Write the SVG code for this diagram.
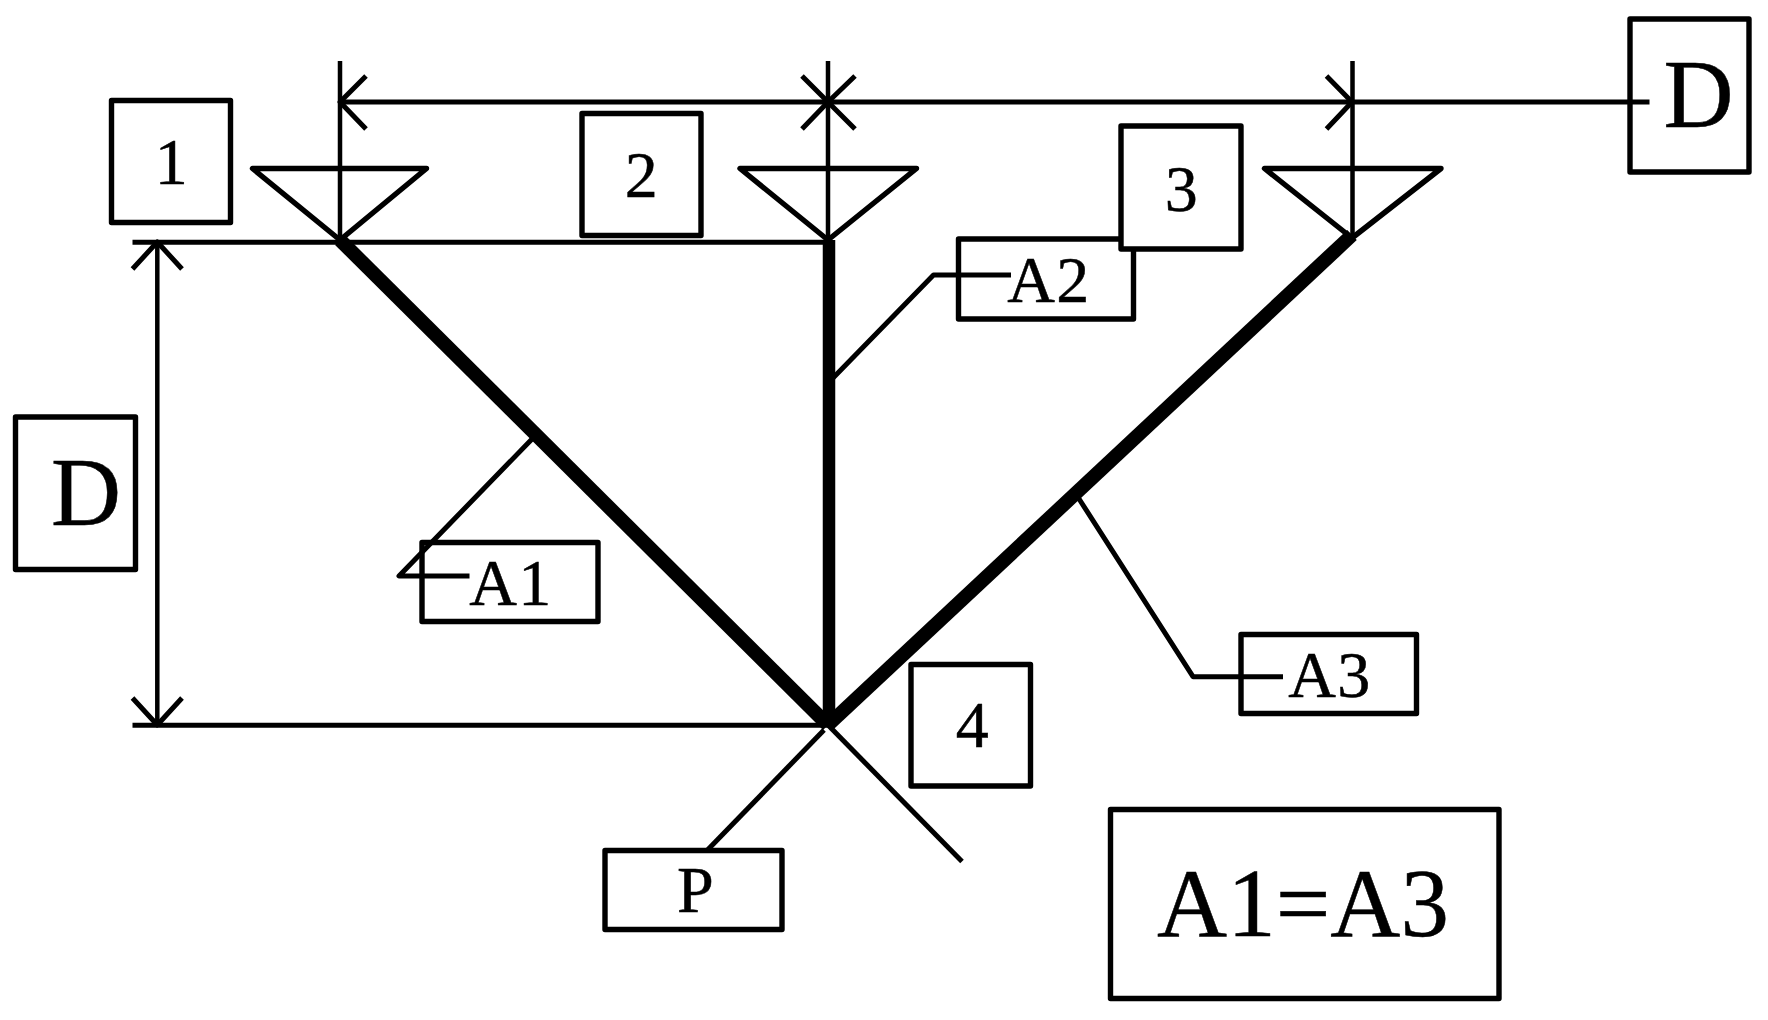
<svg xmlns="http://www.w3.org/2000/svg" width="1768" height="1020" viewBox="0 0 1768 1020">
<style>
.b{fill:#fff;stroke:#000;stroke-width:5.400;stroke-linejoin:round}
.t{font-family:"Liberation Serif","Times New Roman",serif;fill:#000;stroke:#000;stroke-width:.5;text-anchor:middle}
.s{font-size:66px;letter-spacing:1.500px}
.l{font-size:97px}
.c{fill:none;stroke:#000;stroke-width:5;stroke-linejoin:round;stroke-linecap:butt}
.h{fill:none;stroke:#000;stroke-width:14;stroke-linecap:butt}
</style>
<rect width="1768" height="1020" fill="#fff"/>
<g id="node-a1"><rect class="b" x="422" y="542.500" width="176" height="79"/><text class="t s" x="511" y="605">A1</text></g>
<g id="node-a2"><rect class="b" x="958.500" y="239" width="175" height="80"/><text class="t s" x="1049" y="301.500">A2</text></g>
<g id="node-a3"><rect class="b" x="1241" y="634.500" width="175.500" height="79"/><text class="t s" x="1330" y="696.500">A3</text></g>
<g id="node-p"><rect class="b" x="605" y="850.500" width="177" height="79"/><text class="t s" x="696" y="911.500">P</text></g>
<g id="node-1"><rect class="b" x="111.500" y="100.500" width="119" height="122"/><text class="t s" x="172" y="184">1</text></g>
<g id="node-2"><rect class="b" x="582" y="113.500" width="119" height="122"/><text class="t s" x="642" y="196.500">2</text></g>
<g id="node-3"><rect class="b" x="1121" y="126" width="120" height="123"/><text class="t s" x="1182" y="210.500">3</text></g>
<g id="node-4"><rect class="b" x="911" y="664.500" width="119.500" height="121.500"/><text class="t s" x="973" y="747">4</text></g>
<g id="node-d-left"><rect class="b" x="15.500" y="417" width="120" height="152.500"/><text class="t l" x="86" y="525">D</text></g>
<g id="node-d-top"><rect class="b" x="1630" y="19" width="119" height="153"/><text class="t l" x="1698.500" y="127">D</text></g>
<g id="node-equation"><rect class="b" x="1110.500" y="809.500" width="388.500" height="189"/><text class="t l" x="1303" y="936">A1=A3</text></g>
<g id="node-antenna-1"><polygon class="b" style="fill:none" points="252.500,168.500 426.500,168.500 340,240"/></g>
<g id="node-antenna-2"><polygon class="b" style="fill:none" points="740,168.500 916.500,168.500 828,240"/></g>
<g id="node-antenna-3"><polygon class="b" style="fill:none" points="1264.500,168.500 1441,168.500 1352,238"/></g>
<g id="connectors">
<path class="h" d="M340 240L828 725"/>
<path class="h" style="stroke-width:12.500" d="M829 240V725"/>
<path class="h" d="M1352 235L828 725"/>
<path class="c" style="stroke-width:4.500" d="M340 61V240M828 61V240M1352.500 61V238"/>
<path class="c" d="M340 102H1649.500"/>
<path class="c" d="M366 76L340 102L366 129M802 76L828 102L855 76M802 129L828 102L855 129M1326.500 76L1352 102L1326.500 129"/>
<path class="c" d="M132.500 242.300H828M132.500 725.300H828"/>
<path class="c" style="stroke-width:4.500" d="M157.300 242V725"/>
<path class="c" d="M132.500 269L157.300 242L182 269M132.500 698L157.300 725L182 698"/>
<path class="c" d="M533 438L399 576H469.500"/>
<path class="c" d="M833 378L933.500 275H1011"/>
<path class="c" d="M1078.500 498L1193 676.700H1283"/>
<path class="c" d="M824 730L707.500 850"/>
<path class="c" d="M828 725L962 861.500"/>
</g>
</svg>
